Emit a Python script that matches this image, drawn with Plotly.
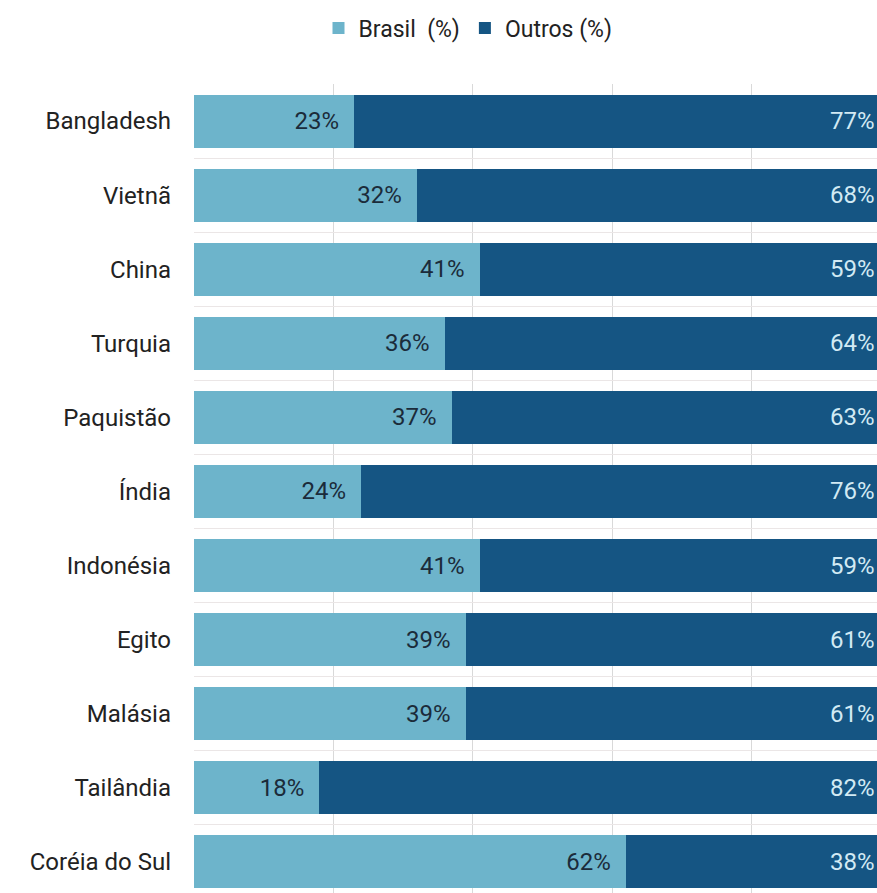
import plotly.graph_objects as go

countries = ["Bangladesh", "Vietnã", "China", "Turquia", "Paquistão", "Índia",
             "Indonésia", "Egito", "Malásia", "Tailândia", "Coréia do Sul"]
brasil = [23, 32, 41, 36, 37, 24, 41, 39, 39, 18, 62]
outros = [77, 68, 59, 64, 63, 76, 59, 61, 61, 82, 38]

LIGHT = "#6DB4CB"
DARK = "#155583"
FONT = "Roboto"
XMAX = 98.0
W, H = 877, 893

fig = go.Figure()
fig.add_trace(go.Bar(
    y=countries, x=brasil, name="Brasil  (%)", orientation="h",
    marker=dict(color=LIGHT, line=dict(width=0)),
    text=[f"{v}%\u2002" for v in brasil], textposition="inside",
    insidetextanchor="end", textangle=0,
    textfont=dict(family=FONT, size=24, color="#1B2B3A"),
))
fig.add_trace(go.Bar(
    y=countries, x=outros, name="Outros (%)", orientation="h",
    marker=dict(color=DARK, line=dict(width=0)),
))

for c, v in zip(countries, outros):
    fig.add_annotation(x=XMAX, y=c, xref="x", yref="y", text=f"{v}%",
                       xanchor="right", yanchor="middle", showarrow=False,
                       xshift=0,
                       font=dict(family=FONT, size=24, color="#D2EAF4"))

fig.update_layout(
    width=W, height=H, autosize=False,
    barmode="stack", bargap=0.285,
    plot_bgcolor="white", paper_bgcolor="white",
    margin=dict(l=194, r=0, t=84, b=0),
    font=dict(family=FONT, size=24, color="#222222"),
    uniformtext=dict(minsize=10, mode="show"),
    legend=dict(orientation="h", xref="container", yref="container",
                x=468 / W, y=1 - 28 / H, xanchor="center", yanchor="middle",
                font=dict(family=FONT, size=23, color="#222222"),
                traceorder="normal", itemwidth=30),
    showlegend=True,
)
fig.update_xaxes(range=[0, XMAX], dtick=20, showgrid=True, gridcolor="#D9D9D9",
                 gridwidth=1, zeroline=False, showticklabels=False, ticks="",
                 showline=False, fixedrange=True)
fig.update_yaxes(categoryorder="array", categoryarray=countries,
                 range=[10.42, -0.5], tickson="boundaries", showgrid=True,
                 gridcolor="#EBE6E6", gridwidth=1, ticks="", showline=False,
                 ticklabelstandoff=22, tickfont=dict(family=FONT, size=24, color="#222222"))

fig.write_html(
    "out.html",
    config={"displayModeBar": False},
    post_script="document.body.style.margin='0';document.body.style.overflow='hidden';"
                "document.documentElement.style.overflow='hidden';",
)
